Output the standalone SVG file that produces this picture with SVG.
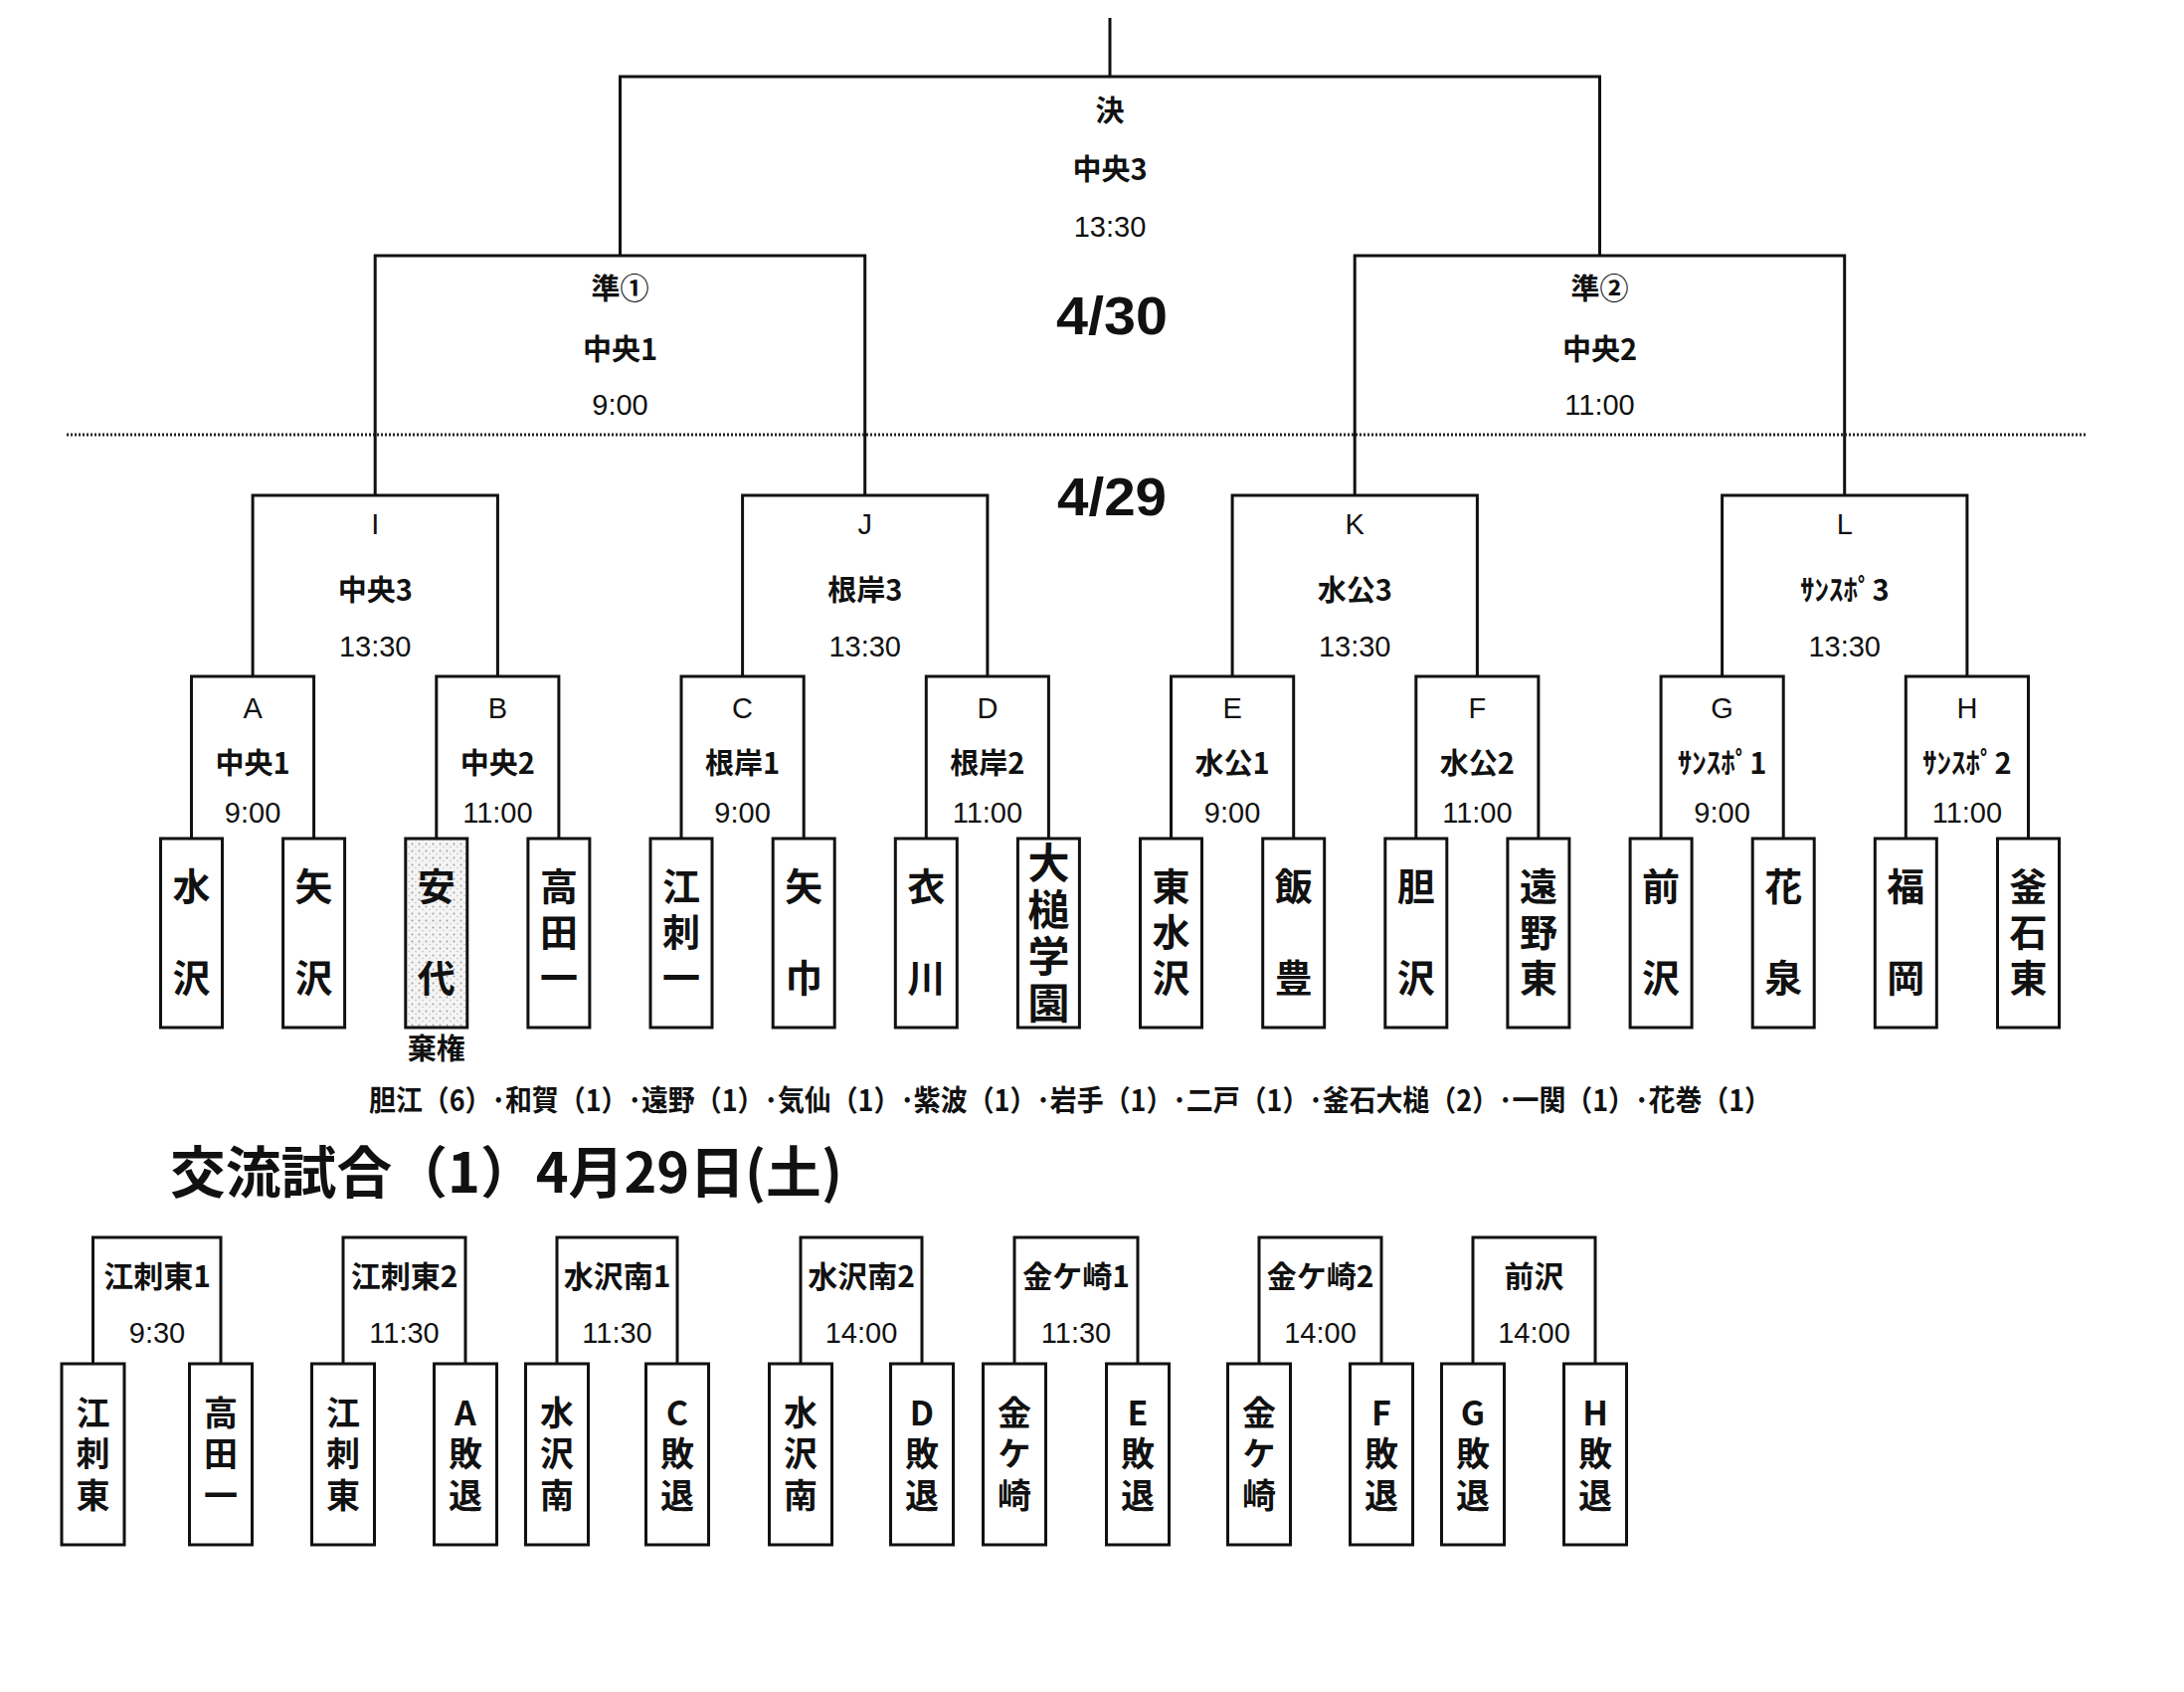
<svg xmlns="http://www.w3.org/2000/svg" width="2196" height="1701" viewBox="0 0 2196 1701">
<style>
.ln{fill:none;stroke:#111;stroke-width:3}
.bx{fill:#fff;stroke:#111;stroke-width:3}
.st{fill:url(#stip);stroke:#111;stroke-width:3}
text{font-family:"Liberation Sans","Noto Sans CJK JP",sans-serif;fill:#111;text-anchor:middle;dominant-baseline:central}
.lb{font-family:"Noto Sans CJK JP","Liberation Sans",sans-serif;font-size:29px;font-weight:700}
.tm{font-size:29px}
.vt{font-family:"Noto Sans CJK JP","Liberation Sans",sans-serif;font-weight:700;writing-mode:vertical-rl;text-orientation:upright;text-anchor:start}
.tn{font-size:38px}
.t2{letter-spacing:54px}
.t3{letter-spacing:8px}
.tb{font-size:34px;letter-spacing:7.5px}
.hd{font-family:"Noto Sans CJK JP","Liberation Sans",sans-serif;font-size:30px;font-weight:700}
.dt{font-size:54px;font-weight:700}
</style>
<defs>
<pattern id="stip" width="7" height="7" patternUnits="userSpaceOnUse">
<rect width="7" height="7" fill="#f4f4f4"/>
<circle cx="1.5" cy="1.5" r="0.9" fill="#9a9a9a"/>
<circle cx="5" cy="4.5" r="0.7" fill="#b5b5b5"/>
</pattern>
</defs>
<rect width="2196" height="1701" fill="#fff"/>

<g id="connectors">
<path class="ln" d="M1116,18V77"/>
<path class="ln" d="M623.5,257V77H1608.5V257"/>
<path class="ln" d="M377.2,498V257H869.7V498"/>
<path class="ln" d="M1362.2,498V257H1854.7V498"/>
<path class="ln" d="M254.1,680V498H500.4V680"/>
<path class="ln" d="M746.6,680V498H992.9V680"/>
<path class="ln" d="M1239.1,680V498H1485.4V680"/>
<path class="ln" d="M1731.6,680V498H1977.9V680"/>
<path class="ln" d="M192.5,843V680H315.6V843"/>
<path class="ln" d="M438.8,843V680H561.9V843"/>
<path class="ln" d="M685,843V680H808.2V843"/>
<path class="ln" d="M931.3,843V680H1054.4V843"/>
<path class="ln" d="M1177.5,843V680H1300.7V843"/>
<path class="ln" d="M1423.8,843V680H1546.9V843"/>
<path class="ln" d="M1670.1,843V680H1793.2V843"/>
<path class="ln" d="M1916.3,843V680H2039.5V843"/>
<path d="M67,437H2097" fill="none" stroke="#222" stroke-width="3" stroke-dasharray="2 2"/>
<path class="ln" d="M93.5,1371V1244H222V1371"/>
<path class="ln" d="M345,1371V1244H468V1371"/>
<path class="ln" d="M560,1371V1244H681V1371"/>
<path class="ln" d="M805,1371V1244H927V1371"/>
<path class="ln" d="M1020,1371V1244H1144V1371"/>
<path class="ln" d="M1266,1371V1244H1389V1371"/>
<path class="ln" d="M1481,1371V1244H1604V1371"/>
</g>

<g id="dates">
<text class="dt" x="1118" y="317" textLength="112" lengthAdjust="spacingAndGlyphs">4/30</text>
<text class="dt" x="1118" y="499" textLength="110" lengthAdjust="spacingAndGlyphs">4/29</text>
</g>

<g id="m-final"><text class="lb" x="1116" y="109">決</text><text class="lb" x="1116" y="168">中央3</text><text class="tm" x="1116" y="228">13:30</text></g>
<g id="m-semi1"><text class="lb" x="623.5" y="288">準①</text><text class="lb" x="623.5" y="349">中央1</text><text class="tm" x="623.5" y="407">9:00</text></g>
<g id="m-semi2"><text class="lb" x="1608.5" y="288">準②</text><text class="lb" x="1608.5" y="349">中央2</text><text class="tm" x="1608.5" y="407">11:00</text></g>

<g id="m-I"><text class="tm" x="377.2" y="527">I</text><text class="lb" x="377.2" y="591">中央3</text><text class="tm" x="377.2" y="650">13:30</text></g>
<g id="m-J"><text class="tm" x="869.7" y="527">J</text><text class="lb" x="869.7" y="591">根岸3</text><text class="tm" x="869.7" y="650">13:30</text></g>
<g id="m-K"><text class="tm" x="1362.2" y="527">K</text><text class="lb" x="1362.2" y="591">水公3</text><text class="tm" x="1362.2" y="650">13:30</text></g>
<g id="m-L"><text class="tm" x="1854.7" y="527">L</text><text class="lb" x="1854.7" y="591">ｻﾝｽﾎﾟ3</text><text class="tm" x="1854.7" y="650">13:30</text></g>

<g id="m-A"><text class="tm" x="254.1" y="712">A</text><text class="lb" x="254.1" y="765">中央1</text><text class="tm" x="254.1" y="817">9:00</text></g>
<g id="m-B"><text class="tm" x="500.4" y="712">B</text><text class="lb" x="500.4" y="765">中央2</text><text class="tm" x="500.4" y="817">11:00</text></g>
<g id="m-C"><text class="tm" x="746.6" y="712">C</text><text class="lb" x="746.6" y="765">根岸1</text><text class="tm" x="746.6" y="817">9:00</text></g>
<g id="m-D"><text class="tm" x="992.9" y="712">D</text><text class="lb" x="992.9" y="765">根岸2</text><text class="tm" x="992.9" y="817">11:00</text></g>
<g id="m-E"><text class="tm" x="1239.1" y="712">E</text><text class="lb" x="1239.1" y="765">水公1</text><text class="tm" x="1239.1" y="817">9:00</text></g>
<g id="m-F"><text class="tm" x="1485.4" y="712">F</text><text class="lb" x="1485.4" y="765">水公2</text><text class="tm" x="1485.4" y="817">11:00</text></g>
<g id="m-G"><text class="tm" x="1731.6" y="712">G</text><text class="lb" x="1731.6" y="765">ｻﾝｽﾎﾟ1</text><text class="tm" x="1731.6" y="817">9:00</text></g>
<g id="m-H"><text class="tm" x="1977.9" y="712">H</text><text class="lb" x="1977.9" y="765">ｻﾝｽﾎﾟ2</text><text class="tm" x="1977.9" y="817">11:00</text></g>

<g id="t-mizusawa"><rect class="bx" x="161.5" y="843" width="62" height="190"/><text class="vt tn t2" x="192.5" y="872">水沢</text></g>
<g id="t-yazawa"><rect class="bx" x="284.6" y="843" width="62" height="190"/><text class="vt tn t2" x="315.6" y="872">矢沢</text></g>
<g id="t-ashiro"><rect class="st" x="407.8" y="843" width="62" height="190"/><text class="vt tn t2" x="438.8" y="872">安代</text><text class="lb" x="438.8" y="1052">棄権</text></g>
<g id="t-takada1"><rect class="bx" x="530.9" y="843" width="62" height="190"/><text class="vt tn t3" x="561.9" y="872">高田一</text></g>
<g id="t-esashi1"><rect class="bx" x="654" y="843" width="62" height="190"/><text class="vt tn t3" x="685" y="872">江刺一</text></g>
<g id="t-yahaba"><rect class="bx" x="777.2" y="843" width="62" height="190"/><text class="vt tn t2" x="808.2" y="872">矢巾</text></g>
<g id="t-koromogawa"><rect class="bx" x="900.3" y="843" width="62" height="190"/><text class="vt tn t2" x="931.3" y="872">衣川</text></g>
<g id="t-otsuchi"><rect class="bx" x="1023.4" y="843" width="62" height="190"/><text class="vt" x="1054.4" y="846" style="font-size:42px;letter-spacing:5px">大槌学園</text></g>
<g id="t-higashimizusawa"><rect class="bx" x="1146.5" y="843" width="62" height="190"/><text class="vt tn t3" x="1177.5" y="872">東水沢</text></g>
<g id="t-iitoyo"><rect class="bx" x="1269.7" y="843" width="62" height="190"/><text class="vt tn t2" x="1300.7" y="872">飯豊</text></g>
<g id="t-isawa"><rect class="bx" x="1392.8" y="843" width="62" height="190"/><text class="vt tn t2" x="1423.8" y="872">胆沢</text></g>
<g id="t-toonohigashi"><rect class="bx" x="1515.9" y="843" width="62" height="190"/><text class="vt tn t3" x="1546.9" y="872">遠野東</text></g>
<g id="t-maesawa"><rect class="bx" x="1639.1" y="843" width="62" height="190"/><text class="vt tn t2" x="1670.1" y="872">前沢</text></g>
<g id="t-hanaizumi"><rect class="bx" x="1762.2" y="843" width="62" height="190"/><text class="vt tn t2" x="1793.2" y="872">花泉</text></g>
<g id="t-fukuoka"><rect class="bx" x="1885.3" y="843" width="62" height="190"/><text class="vt tn t2" x="1916.3" y="872">福岡</text></g>
<g id="t-kamaishihigashi"><rect class="bx" x="2008.5" y="843" width="62" height="190"/><text class="vt tn t3" x="2039.5" y="872">釜石東</text></g>

<g id="note"><text x="371" y="1104" style="text-anchor:start;font-family:'Noto Sans CJK JP','Liberation Sans',sans-serif;font-size:29px;font-weight:700" textLength="1410" lengthAdjust="spacingAndGlyphs">胆江（6）･和賀（1）･遠野（1）･気仙（1）･紫波（1）･岩手（1）･二戸（1）･釜石大槌（2）･一関（1）･花巻（1）</text></g>
<g id="title"><text x="171" y="1174" style="text-anchor:start;font-family:'Noto Sans CJK JP','Liberation Sans',sans-serif;font-size:56px;font-weight:700" textLength="676" lengthAdjust="spacingAndGlyphs">交流試合（1）4月29日(土)</text></g>

<g id="x1"><text class="hd" x="158" y="1281">江刺東1</text><text class="tm" x="158" y="1340">9:30</text></g>
<g id="x2"><text class="hd" x="406.5" y="1281">江刺東2</text><text class="tm" x="406.5" y="1340">11:30</text></g>
<g id="x3"><text class="hd" x="620.5" y="1281">水沢南1</text><text class="tm" x="620.5" y="1340">11:30</text></g>
<g id="x4"><text class="hd" x="866" y="1281">水沢南2</text><text class="tm" x="866" y="1340">14:00</text></g>
<g id="x5"><text class="hd" x="1082" y="1281">金ケ崎1</text><text class="tm" x="1082" y="1340">11:30</text></g>
<g id="x6"><text class="hd" x="1327.5" y="1281">金ケ崎2</text><text class="tm" x="1327.5" y="1340">14:00</text></g>
<g id="x7"><text class="hd" x="1542.5" y="1281">前沢</text><text class="tm" x="1542.5" y="1340">14:00</text></g>

<g id="b-esashihigashi1"><rect class="bx" x="62" y="1371" width="63" height="182"/><text class="vt tb" x="93.5" y="1403">江刺東</text></g>
<g id="b-takada1"><rect class="bx" x="190.5" y="1371" width="63" height="182"/><text class="vt tb" x="222" y="1403">高田一</text></g>
<g id="b-esashihigashi2"><rect class="bx" x="313.5" y="1371" width="63" height="182"/><text class="vt tb" x="345" y="1403">江刺東</text></g>
<g id="b-Alose"><rect class="bx" x="436.5" y="1371" width="63" height="182"/><text class="vt tb" x="468" y="1403">A敗退</text></g>
<g id="b-mizusawaminami1"><rect class="bx" x="528.5" y="1371" width="63" height="182"/><text class="vt tb" x="560" y="1403">水沢南</text></g>
<g id="b-Close"><rect class="bx" x="649.5" y="1371" width="63" height="182"/><text class="vt tb" x="681" y="1403">C敗退</text></g>
<g id="b-mizusawaminami2"><rect class="bx" x="773.5" y="1371" width="63" height="182"/><text class="vt tb" x="805" y="1403">水沢南</text></g>
<g id="b-Dlose"><rect class="bx" x="895.5" y="1371" width="63" height="182"/><text class="vt tb" x="927" y="1403">D敗退</text></g>
<g id="b-kanegasaki1"><rect class="bx" x="988.5" y="1371" width="63" height="182"/><text class="vt tb" x="1020" y="1403">金ケ崎</text></g>
<g id="b-Elose"><rect class="bx" x="1112.5" y="1371" width="63" height="182"/><text class="vt tb" x="1144" y="1403">E敗退</text></g>
<g id="b-kanegasaki2"><rect class="bx" x="1234.5" y="1371" width="63" height="182"/><text class="vt tb" x="1266" y="1403">金ケ崎</text></g>
<g id="b-Flose"><rect class="bx" x="1357.5" y="1371" width="63" height="182"/><text class="vt tb" x="1389" y="1403">F敗退</text></g>
<g id="b-Glose"><rect class="bx" x="1449.5" y="1371" width="63" height="182"/><text class="vt tb" x="1481" y="1403">G敗退</text></g>
<g id="b-Hlose"><rect class="bx" x="1572.5" y="1371" width="63" height="182"/><text class="vt tb" x="1604" y="1403">H敗退</text></g>
</svg>
